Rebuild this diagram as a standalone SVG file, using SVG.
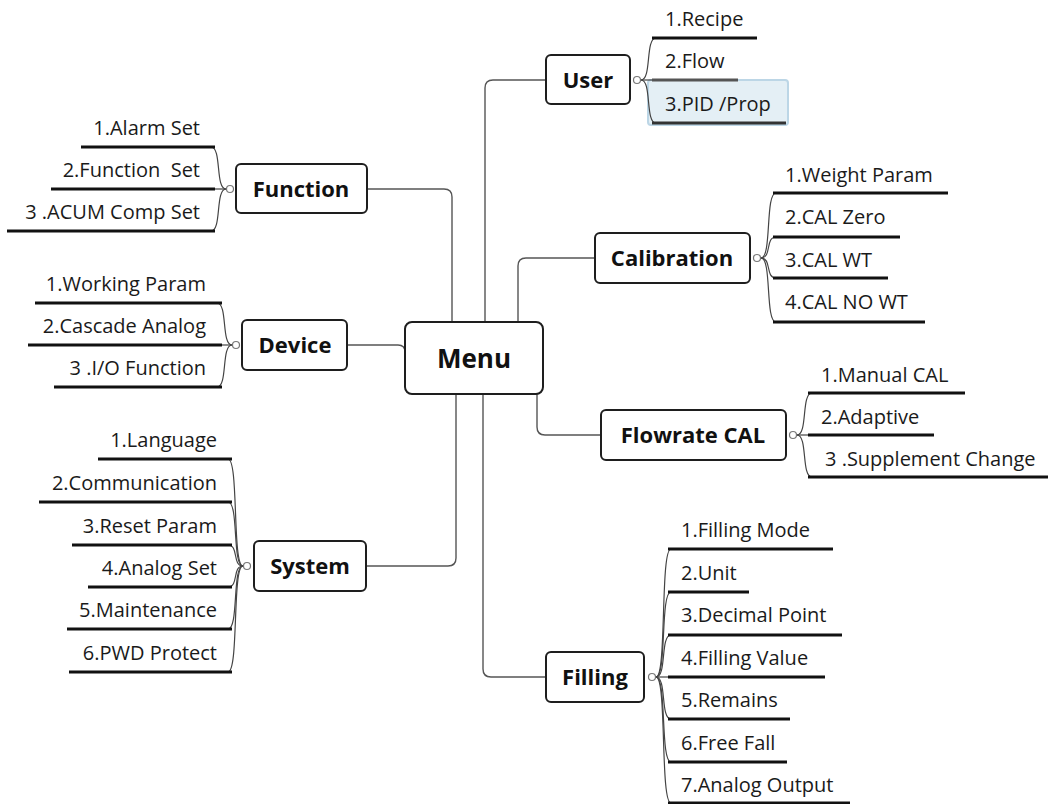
<svg xmlns="http://www.w3.org/2000/svg" width="1053" height="804" viewBox="0 0 1053 804">
<style>
.node rect{fill:#fff;stroke:#1e1e1e;stroke-width:2}
.node text{font-family:"Open Sans","Liberation Sans",sans-serif;font-weight:bold;font-size:22px;fill:#111;text-anchor:middle}
.conn path{fill:none;stroke:#555;stroke-width:1.4}
.br path{fill:none;stroke:#444;stroke-width:1.2}
.ul{stroke:#111;stroke-width:3}
.ct{font-family:"Open Sans","Liberation Sans",sans-serif;font-size:20px;fill:#1a1a1a}
.r{text-anchor:end}
.dot{fill:#fff;stroke:#777;stroke-width:1.2}
</style>

<g id="connectors" class="conn">
<path d="M367,189 H444 Q452,189 452,197 V322"/>
<path d="M546,80 H493 Q485,80 485,88 V322"/>
<path d="M595,258 H526 Q518,258 518,266 V322"/>
<path d="M347,345 H398 Q405,345 405,352"/>
<path d="M537,394 V427 Q537,435 545,435 H601"/>
<path d="M366,566 H448 Q456,566 456,558 V394"/>
<path d="M546,677 H491 Q483,677 483,669 V394"/>
</g>

<g id="menu" class="node">
<rect x="405" y="322" width="138" height="72" rx="7"/>
<text x="474" y="368" style="font-size:26px">Menu</text>
</g>

<g id="user">
<g class="node">
<rect x="546" y="55" width="84" height="49" rx="5"/>
<text x="588" y="88">User</text>
</g>
<rect x="648" y="80" width="140" height="45" rx="3" fill="#e4eff5" stroke="#bcd6e6" stroke-width="2"/>
<g class="br">
<path d="M641,80 C652,80 645,38 656,38"/>
<path d="M641,80 H652"/>
<path d="M641,80 C652,80 645,123 656,123"/>
</g>
<line class="ul" x1="652" y1="38" x2="757" y2="38"/>
<line class="ul" x1="652" y1="80" x2="738" y2="80" style="stroke:#555"/>
<line class="ul" x1="652" y1="123" x2="786" y2="123" style="stroke:#333"/>
<text class="ct" x="665" y="26">1.Recipe</text>
<text class="ct" x="665" y="68">2.Flow</text>
<text class="ct" x="665" y="111">3.PID /Prop</text>
<circle class="dot" cx="637" cy="80" r="3.5"/>
</g>

<g id="function">
<g class="node">
<rect x="236" y="164" width="131" height="49" rx="5"/>
<text x="301" y="197">Function</text>
</g>
<g class="br">
<path d="M226,189 C215,189 222,147 211,147"/>
<path d="M226,189 H213"/>
<path d="M226,189 C215,189 222,231 211,231"/>
</g>
<line class="ul" x1="81" y1="147" x2="215" y2="147"/>
<line class="ul" x1="51" y1="189" x2="215" y2="189"/>
<line class="ul" x1="7" y1="231" x2="215" y2="231"/>
<text class="ct r" x="200" y="135">1.Alarm Set</text>
<text class="ct r" x="200" y="177" xml:space="preserve">2.Function  Set</text>
<text class="ct r" x="200" y="219">3 .ACUM Comp Set</text>
<circle class="dot" cx="230" cy="189" r="3.5"/>
</g>

<g id="device">
<g class="node">
<rect x="242" y="320" width="105" height="50" rx="5"/>
<text x="295" y="353">Device</text>
</g>
<g class="br">
<path d="M232,345 C221,345 228,303 217,303"/>
<path d="M232,345 H219"/>
<path d="M232,345 C221,345 228,387 217,387"/>
</g>
<line class="ul" x1="35" y1="303" x2="222" y2="303"/>
<line class="ul" x1="28" y1="345" x2="222" y2="345"/>
<line class="ul" x1="54" y1="387" x2="222" y2="387"/>
<text class="ct r" x="206" y="291">1.Working Param</text>
<text class="ct r" x="206" y="333">2.Cascade Analog</text>
<text class="ct r" x="206" y="375">3 .I/O Function</text>
<circle class="dot" cx="236" cy="345" r="3.5"/>
</g>

<g id="calibration">
<g class="node">
<rect x="595" y="233" width="155" height="50" rx="5"/>
<text x="672" y="266">Calibration</text>
</g>
<g class="br">
<path d="M761,258 C772,258 765,193 776,193"/>
<path d="M761,258 C772,258 765,237 776,237"/>
<path d="M761,258 C772,258 765,278 776,278"/>
<path d="M761,258 C772,258 765,322 776,322"/>
</g>
<line class="ul" x1="773" y1="193" x2="948" y2="193"/>
<line class="ul" x1="773" y1="237" x2="900" y2="237"/>
<line class="ul" x1="773" y1="278" x2="888" y2="278"/>
<line class="ul" x1="773" y1="322" x2="925" y2="322"/>
<text class="ct" x="785" y="182">1.Weight Param</text>
<text class="ct" x="785" y="224">2.CAL Zero</text>
<text class="ct" x="785" y="267">3.CAL WT</text>
<text class="ct" x="785" y="309">4.CAL NO WT</text>
<circle class="dot" cx="757" cy="258" r="3.5"/>
</g>

<g id="flowrate">
<g class="node">
<rect x="601" y="410" width="185" height="50" rx="5"/>
<text x="693" y="443">Flowrate CAL</text>
</g>
<g class="br">
<path d="M797,435 C808,435 801,393 812,393"/>
<path d="M797,435 H812"/>
<path d="M797,435 C808,435 801,477 812,477"/>
</g>
<line class="ul" x1="808" y1="393" x2="965" y2="393"/>
<line class="ul" x1="808" y1="435" x2="934" y2="435"/>
<line class="ul" x1="808" y1="477" x2="1048" y2="477"/>
<text class="ct" x="821" y="382">1.Manual CAL</text>
<text class="ct" x="821" y="424">2.Adaptive</text>
<text class="ct" x="825" y="466">3 .Supplement Change</text>
<circle class="dot" cx="793" cy="435" r="3.5"/>
</g>

<g id="system">
<g class="node">
<rect x="254" y="541" width="112" height="50" rx="5"/>
<text x="310" y="574">System</text>
</g>
<g class="br">
<path d="M243,566 C232,566 239,459 228,459"/>
<path d="M243,566 C232,566 239,502 228,502"/>
<path d="M243,566 C232,566 239,545 228,545"/>
<path d="M243,566 C232,566 239,587 228,587"/>
<path d="M243,566 C232,566 239,629 228,629"/>
<path d="M243,566 C232,566 239,672 228,672"/>
</g>
<line class="ul" x1="98" y1="459" x2="232" y2="459"/>
<line class="ul" x1="39" y1="502" x2="232" y2="502"/>
<line class="ul" x1="72" y1="545" x2="232" y2="545"/>
<line class="ul" x1="88" y1="587" x2="232" y2="587"/>
<line class="ul" x1="67" y1="629" x2="232" y2="629"/>
<line class="ul" x1="69" y1="672" x2="232" y2="672"/>
<text class="ct r" x="217" y="447">1.Language</text>
<text class="ct r" x="217" y="490">2.Communication</text>
<text class="ct r" x="217" y="533">3.Reset Param</text>
<text class="ct r" x="217" y="575">4.Analog Set</text>
<text class="ct r" x="217" y="617">5.Maintenance</text>
<text class="ct r" x="217" y="660">6.PWD Protect</text>
<circle class="dot" cx="247" cy="566" r="3.5"/>
</g>

<g id="filling">
<g class="node">
<rect x="546" y="652" width="98" height="50" rx="5"/>
<text x="595" y="685">Filling</text>
</g>
<g class="br">
<path d="M656,677 C667,677 660,549 671,549"/>
<path d="M656,677 C667,677 660,592 671,592"/>
<path d="M656,677 C667,677 660,635 671,635"/>
<path d="M656,677 H671"/>
<path d="M656,677 C667,677 660,719 671,719"/>
<path d="M656,677 C667,677 660,762 671,762"/>
<path d="M656,677 C667,677 660,803 671,803"/>
</g>
<line class="ul" x1="668" y1="549" x2="833" y2="549"/>
<line class="ul" x1="668" y1="592" x2="749" y2="592"/>
<line class="ul" x1="668" y1="635" x2="842" y2="635"/>
<line class="ul" x1="668" y1="677" x2="825" y2="677"/>
<line class="ul" x1="668" y1="719" x2="790" y2="719"/>
<line class="ul" x1="668" y1="762" x2="787" y2="762"/>
<line class="ul" x1="668" y1="803" x2="850" y2="803"/>
<text class="ct" x="681" y="537">1.Filling Mode</text>
<text class="ct" x="681" y="580">2.Unit</text>
<text class="ct" x="681" y="622">3.Decimal Point</text>
<text class="ct" x="681" y="665">4.Filling Value</text>
<text class="ct" x="681" y="707">5.Remains</text>
<text class="ct" x="681" y="750">6.Free Fall</text>
<text class="ct" x="681" y="792">7.Analog Output</text>
<circle class="dot" cx="652" cy="677" r="3.5"/>
</g>
</svg>
